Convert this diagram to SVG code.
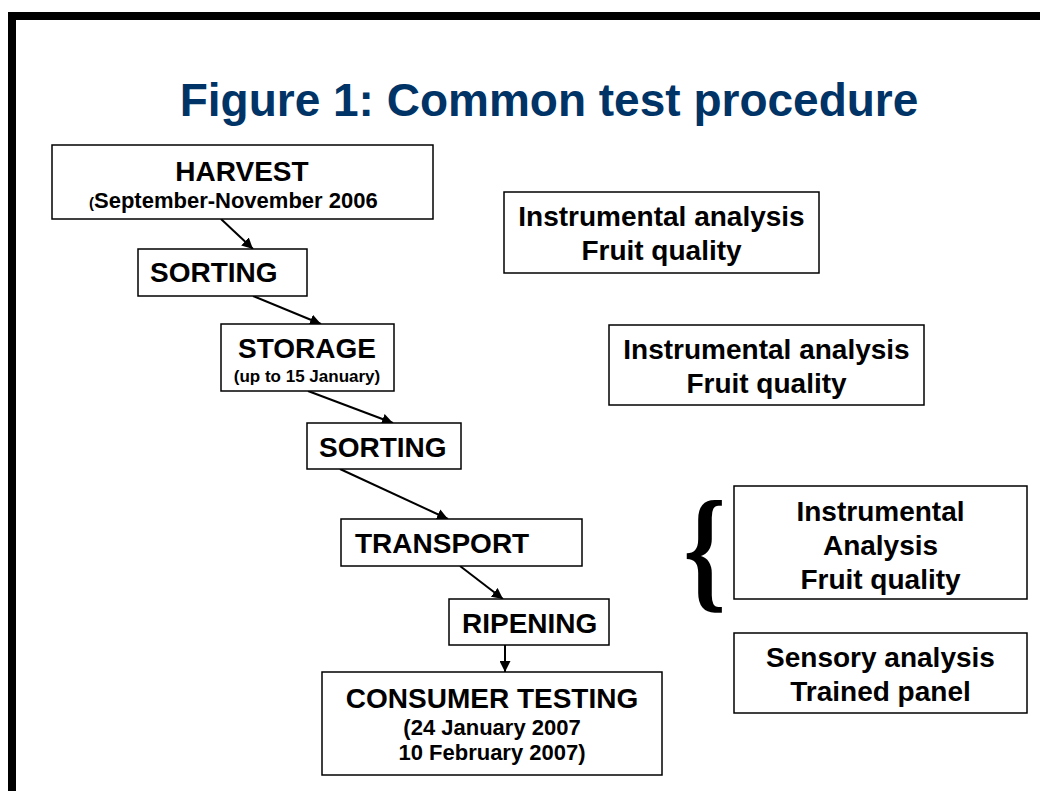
<svg xmlns="http://www.w3.org/2000/svg" width="1040" height="791" viewBox="0 0 1040 791">
<style>
.box{fill:#fff;stroke:#000;stroke-width:1.5}
.t{font-family:"Liberation Sans",Arial,sans-serif;font-weight:bold;fill:#000;font-size:28px}
.c{text-anchor:middle}
.s22{font-size:22px}
.s17{font-size:17px}
.s15{font-size:15px}
.conn line{stroke:#000;stroke-width:2;marker-end:url(#ah)}
</style>
<defs>
<marker id="ah" viewBox="0 0 10 10" refX="10" refY="5" markerWidth="5.5" markerHeight="5.5" orient="auto" markerUnits="strokeWidth">
<path d="M0,0 L10,5 L0,10 z" fill="#000"/>
</marker>
</defs>
<rect x="0" y="0" width="1040" height="791" fill="#fff"/>
<g id="frame">
<rect x="8" y="12" width="1032" height="8" fill="#000"/>
<rect x="8" y="12" width="8" height="779" fill="#000"/>
</g>
<text id="title" x="549" y="116" text-anchor="middle" font-family="Liberation Sans, Arial, sans-serif" font-weight="bold" font-size="46" fill="#003366">Figure 1: Common test procedure</text>
<g id="connectors" class="conn">
<line x1="221" y1="219" x2="253" y2="249"/>
<line x1="253" y1="296" x2="321" y2="324"/>
<line x1="308" y1="391" x2="393" y2="423"/>
<line x1="340" y1="469" x2="448" y2="519"/>
<line x1="460" y1="566" x2="503" y2="599"/>
<line x1="505" y1="645" x2="505" y2="672"/>
</g>
<g id="harvest">
<rect class="box" x="52" y="145" width="381" height="74"/>
<text class="t c" x="242" y="181">HARVEST</text>
<text class="t s22" x="89" y="208"><tspan class="s15">(</tspan>September-November 2006</text>
</g>
<g id="sorting1">
<rect class="box" x="138" y="249" width="169" height="47"/>
<text class="t" x="150" y="282">SORTING</text>
</g>
<g id="storage">
<rect class="box" x="221" y="324" width="173" height="67"/>
<text class="t c" x="307" y="358">STORAGE</text>
<text class="t c s17" x="307" y="382">(up to 15 January)</text>
</g>
<g id="sorting2">
<rect class="box" x="307" y="423" width="154" height="46"/>
<text class="t" x="319" y="457">SORTING</text>
</g>
<g id="transport">
<rect class="box" x="341" y="519" width="241" height="47"/>
<text class="t" x="355" y="553">TRANSPORT</text>
</g>
<g id="ripening">
<rect class="box" x="449" y="599" width="160" height="46"/>
<text class="t" x="462" y="633">RIPENING</text>
</g>
<g id="consumer">
<rect class="box" x="322" y="672" width="340" height="103"/>
<text class="t c" x="492" y="708">CONSUMER TESTING</text>
<text class="t c s22" x="492" y="735">(24 January 2007</text>
<text class="t c s22" x="492" y="760">10 February 2007)</text>
</g>
<g id="instr1">
<rect class="box" x="504" y="192" width="315" height="81"/>
<text class="t c" x="661.5" y="226">Instrumental analysis</text>
<text class="t c" x="661.5" y="260">Fruit quality</text>
</g>
<g id="instr2">
<rect class="box" x="609" y="325" width="315" height="80"/>
<text class="t c" x="766.5" y="359">Instrumental analysis</text>
<text class="t c" x="766.5" y="393">Fruit quality</text>
</g>
<g id="brace" transform="translate(700,0) scale(0.8,1) translate(-700,0)">
<text x="679" y="594" font-family="Liberation Serif, 'Times New Roman', serif" font-weight="bold" font-size="136" fill="#000">{</text>
</g>
<g id="instr3">
<rect class="box" x="734" y="486" width="293" height="113"/>
<text class="t c" x="880.5" y="521">Instrumental</text>
<text class="t c" x="880.5" y="555">Analysis</text>
<text class="t c" x="880.5" y="589">Fruit quality</text>
</g>
<g id="sensory">
<rect class="box" x="734" y="633" width="293" height="80"/>
<text class="t c" x="880.5" y="667">Sensory analysis</text>
<text class="t c" x="880.5" y="701">Trained panel</text>
</g>
</svg>
